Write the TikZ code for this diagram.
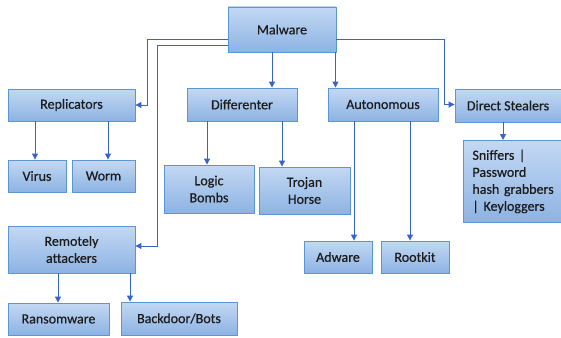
\documentclass[tikz,border=0pt]{standalone}
\usepackage{fontspec}
\setmainfont{Carlito}
\newfontfamily\boxfont{Carlito}[BoldFont=Carlito, BoldFeatures={FakeBold=0.5}]
\usetikzlibrary{arrows.meta}
\definecolor{boxtop}{HTML}{C3D8F3}
\definecolor{boxbot}{HTML}{8DB3E3}
\definecolor{boxline}{HTML}{5B95D6}
\definecolor{arrcol}{HTML}{3A62CC}
\definecolor{txt}{HTML}{1C1C1C}
\tikzset{
  box/.style={draw=boxline, line width=0.9pt, top color=boxtop, bottom color=boxbot,
    text=txt, font=\boxfont\bfseries\fontsize{14}{17}\selectfont, align=center, inner sep=2pt},
  arr/.style={draw=arrcol, line width=1pt, -{Triangle[width=6pt,length=6pt]}},
}
\newcommand{\bx}[6]{% name, x1, y1, x2, y2, text
  \node[box, minimum width={(#4-#2)*1pt}, minimum height={(#5-#3)*1pt}] (#1) at ({(#2+#4)/2},{(#3+#5)/2}) {#6};}
\begin{document}
\begin{tikzpicture}[x=1pt,y=-1pt]
\useasboundingbox (0,0) rectangle (561,337);
\fill[white] (0,0) rectangle (561,337);
\bx{malware}{228}{7}{336}{52}{Malware}
\bx{repl}{8}{89}{135}{121}{Replicators}
\bx{diff}{187}{88}{297}{121}{Differenter}
\bx{auto}{328}{88}{438}{121}{Autonomous}
\bx{direct}{455}{89}{568}{122}{\hspace*{-7pt}Direct Stealers}
\node[box, anchor=north west, align=left, text width=90pt, inner xsep=9pt, minimum height=82pt] (sniff) at (463,140) {Sniffers |\\Password\\hash grabbers\\| Keyloggers};
\bx{virus}{8}{160}{66}{192}{Virus}
\bx{worm}{72}{160}{135}{192}{Worm}
\bx{logic}{164}{165}{254}{213}{Logic\\Bombs}
\bx{trojan}{259}{167}{350}{214}{Trojan\\Horse}
\bx{remote}{8}{226}{135}{273}{Remotely\\attackers}
\bx{ransom}{8}{303}{109}{335}{Ransomware}
\bx{backdoor}{121}{302}{237}{335}{Backdoor/Bots}
\bx{adware}{304}{241}{372}{273}{Adware}
\bx{rootkit}{381}{241}{449}{273}{Rootkit}

% Malware connectors
\draw[arr] ([yshift=-10.5pt]malware.west) -- ++(-80,0) |- (repl.east);
\draw[arr] ([yshift=-16pt]malware.west) -- ++(-70,0) |- ([yshift=3.5pt]remote.east);
\draw[arr] ([xshift=-10pt]malware.south) -- ([xshift=-10pt]malware.south |- diff.north);
\draw[arr] ([xshift=-1pt]malware.south east) -- ([xshift=-1pt]malware.south east |- auto.north);
\draw[arr] ([yshift=-10.5pt]malware.east) -- ++(108,0) |- ([yshift=1pt]direct.west);
% second level
\draw[arr] ([xshift=-36.5pt]repl.south) -- ([xshift=-36.5pt]repl.south |- virus.north);
\draw[arr] ([xshift=36.5pt]repl.south) -- ([xshift=36.5pt]repl.south |- worm.north);
\draw[arr] ([xshift=-35pt]diff.south) -- ([xshift=-35pt]diff.south |- logic.north);
\draw[arr] ([xshift=40pt]diff.south) -- ([xshift=40pt]diff.south |- trojan.north);
\draw[arr] ([xshift=-29pt]auto.south) -- ([xshift=-29pt]auto.south |- adware.north);
\draw[arr] ([xshift=27pt]auto.south) -- ([xshift=27pt]auto.south |- rootkit.north);
\draw[arr] ([xshift=-8.5pt]direct.south) -- ([xshift=-8.5pt]direct.south |- sniff.north);
\draw[arr] ([xshift=-13.5pt]remote.south) -- ([xshift=-13.5pt]remote.south |- ransom.north);
\draw[arr] ([xshift=58.5pt]remote.south) -- ([xshift=58.5pt]remote.south |- backdoor.north);
\end{tikzpicture}
\end{document}
